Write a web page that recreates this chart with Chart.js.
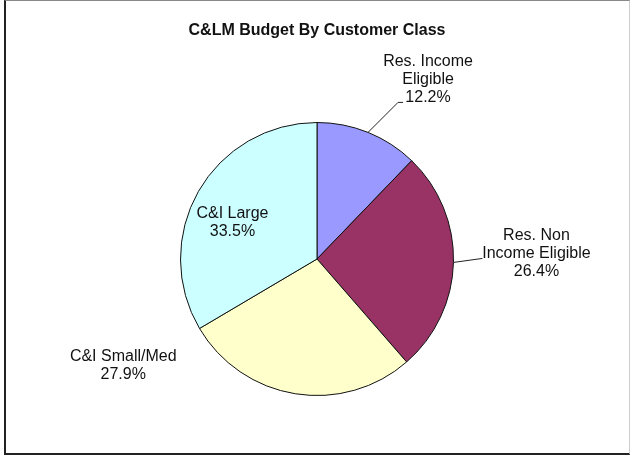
<!DOCTYPE html>
<html>
<head>
<meta charset="utf-8">
<script src="https://cdn.jsdelivr.net/npm/chart.js@4/dist/chart.umd.min.js"></script>
<style>
    html, body { margin: 0; padding: 0; background: #fff; }
    #wrap { position: relative; width: 632px; height: 457px; }
    #frame {
        position: absolute; left: 4px; top: 0; width: 623px; height: 452px;
        border-left: 2px solid #222; border-bottom: 2px solid #222;
        border-top: 1px solid #888; border-right: 1px solid #ccc;
        pointer-events: none;
    }
    canvas { position: absolute; left: 0; top: 0; }
</style>
</head>
<body>
<div id="wrap">
    <canvas id="budget-chart" width="632" height="457"></canvas>
    <div id="frame"></div>
</div>
<script>
// Budget shares by customer class (percent)
const categories = ['Res. Income Eligible', 'Res. Non Income Eligible', 'C&I Small/Med', 'C&I Large'];
const shares = [12.2, 26.4, 27.9, 33.5];
const labelLines = [
    ['Res. Income', 'Eligible'],
    ['Res. Non', 'Income Eligible'],
    ['C&I Small/Med'],
    ['C&I Large']
];
const sliceColors = ['#9999ff', '#993366', '#ffffcc', '#ccffff'];

// where each label sits, relative to the slice's outer edge midpoint
const labelPlacement = [
    { dx: 60, dy: -53, leader: [[-30, 23], [-25, 23]] },
    { dx: 83, dy: -9, leader: [[-54, 5]] },
    { dx: -172, dy: -28, leader: null },
    { dx: 34, dy: 31, leader: null }
];

const sliceLabels = {
    id: 'sliceLabels',
    afterDatasetsDraw(chart) {
        const ctx = chart.ctx;
        const arcs = chart.getDatasetMeta(0).data;
        ctx.save();
        ctx.font = '16px "Liberation Sans", Arial, sans-serif';
        ctx.fillStyle = '#111';
        ctx.textAlign = 'center';
        ctx.textBaseline = 'middle';
        arcs.forEach((arc, i) => {
            const { x, y, startAngle, endAngle, outerRadius } = arc.getProps(['x', 'y', 'startAngle', 'endAngle', 'outerRadius'], true);
            const mid = (startAngle + endAngle) / 2;
            const ex = x + Math.cos(mid) * outerRadius;
            const ey = y + Math.sin(mid) * outerRadius;
            const p = labelPlacement[i];
            const cx = ex + p.dx;
            const cy = ey + p.dy;
            const lines = labelLines[i].concat([shares[i].toFixed(1) + '%']);
            const lh = 18;
            const top = cy - (lines.length - 1) * lh / 2;
            lines.forEach((t, k) => ctx.fillText(t, cx, top + k * lh));
            if (p.leader) {
                ctx.strokeStyle = '#222';
                ctx.lineWidth = 1;
                ctx.beginPath();
                ctx.moveTo(ex, ey);
                p.leader.forEach(pt => ctx.lineTo(cx + pt[0], cy + pt[1]));
                ctx.stroke();
            }
        });
        ctx.restore();
    }
};

new Chart(document.getElementById('budget-chart').getContext('2d'), {
    type: 'pie',
    data: {
        labels: categories,
        datasets: [{
            data: shares,
            backgroundColor: sliceColors,
            borderColor: '#111',
            borderWidth: 1
        }]
    },
    options: {
        responsive: false,
        animation: false,
        layout: { padding: { top: 0, bottom: 61, left: 180, right: 178 } },
        plugins: {
            legend: { display: false },
            tooltip: { enabled: false },
            title: {
                display: true,
                text: 'C&LM Budget By Customer Class',
                color: '#111',
                font: { family: '"Liberation Sans", Arial, sans-serif', size: 16, weight: 'bold', lineHeight: 1.2 },
                padding: { top: 21, bottom: 81.8 }
            }
        }
    },
    plugins: [sliceLabels]
});
</script>
</body>
</html>
